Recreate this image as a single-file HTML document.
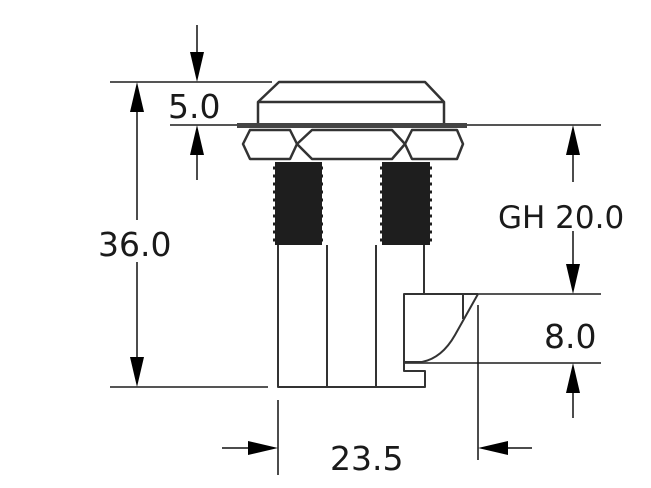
<!DOCTYPE html>
<html><head><style>
html,body{margin:0;padding:0;background:#fff;}
svg{display:block;}
text{font-family:"DejaVu Sans","Liberation Sans",sans-serif;fill:#1a1a1a;}
</style></head><body>
<svg width="651" height="488" viewBox="0 0 651 488" xmlns="http://www.w3.org/2000/svg">
<g stroke="#555" stroke-width="2" fill="none">
  <line x1="110" y1="82" x2="272" y2="82"/>
  <line x1="110" y1="387" x2="268" y2="387"/>
  <line x1="170" y1="125" x2="237" y2="125"/>
  <line x1="467" y1="125" x2="601" y2="125"/>
  <line x1="478" y1="294" x2="601" y2="294"/>
  <line x1="404" y1="363" x2="601" y2="363"/>
</g>
<g stroke="#111" stroke-width="1.5" fill="none">
  <line x1="137" y1="92" x2="137" y2="220"/>
  <line x1="137" y1="262" x2="137" y2="378"/>
  <line x1="197" y1="25" x2="197" y2="75"/>
  <line x1="197" y1="132" x2="197" y2="180"/>
  <line x1="573" y1="132" x2="573" y2="182"/>
  <line x1="573" y1="231" x2="573" y2="286"/>
  <line x1="573" y1="370" x2="573" y2="418"/>
  <line x1="278" y1="400" x2="278" y2="475"/>
  <line x1="478" y1="305" x2="478" y2="460"/>
  <line x1="222" y1="448" x2="270" y2="448"/>
  <line x1="486" y1="448" x2="532" y2="448"/>
</g>
<g fill="#000">
  <polygon points="137,82 130,112 144,112"/>
  <polygon points="137,387 130,357 144,357"/>
  <polygon points="197,82 190,52 204,52"/>
  <polygon points="197,125 190,155 204,155"/>
  <polygon points="573,125 566,155 580,155"/>
  <polygon points="573,294 566,264 580,264"/>
  <polygon points="573,363 566,393 580,393"/>
  <polygon points="278,448 248,441 248,455"/>
  <polygon points="478,448 508,441 508,455"/>
</g>
<g stroke="#333" stroke-width="2.5" fill="none" stroke-linejoin="round">
  <polyline points="258,124 258,102 279,82 425,82 444,102 444,124"/>
  <line x1="258" y1="102" x2="444" y2="102"/>
  <polygon points="250,130 290,130 297,144 290,159 250,159 243,144"/>
  <polygon points="412,130 457,130 463,144 457,159 412,159 405,144"/>
  <polygon points="297,144 312,130 392,130 405,144 392,159 312,159"/>
</g>
<rect x="237" y="123" width="230" height="5" fill="#444"/>
<g fill="#1e1e1e">
  <rect x="275" y="162" width="47" height="83"/>
  <rect x="382" y="162" width="48" height="83"/>
</g>
<g stroke="#1e1e1e" stroke-width="3">
  <path d="M273,168h50M273,176h50M273,184h50M273,192h50M273,200h50M273,208h50M273,216h50M273,224h50M273,232h50M273,240h50"/>
  <path d="M380,168h52M380,176h52M380,184h52M380,192h52M380,200h52M380,208h52M380,216h52M380,224h52M380,232h52M380,240h52"/>
</g>
<g stroke="#333" stroke-width="2" fill="none" stroke-linejoin="round">
  <polyline points="278,245 278,387 425,387 425,371 404,371 404,294 478,294"/>
  <line x1="327" y1="245" x2="327" y2="387"/>
  <line x1="376" y1="245" x2="376" y2="387"/>
  <line x1="424" y1="245" x2="424" y2="294"/>
  <path d="M478,294 L455,335 Q442,358 422,362 L404,362"/>
  <line x1="463" y1="294" x2="463" y2="319"/>
</g>
<text x="98" y="256" font-size="33">36.0</text>
<text x="168" y="118" font-size="33">5.0</text>
<text x="498" y="228" font-size="31">GH 20.0</text>
<text x="544" y="348" font-size="33">8.0</text>
<text x="330" y="470" font-size="33">23.5</text>
</svg>
</body></html>
